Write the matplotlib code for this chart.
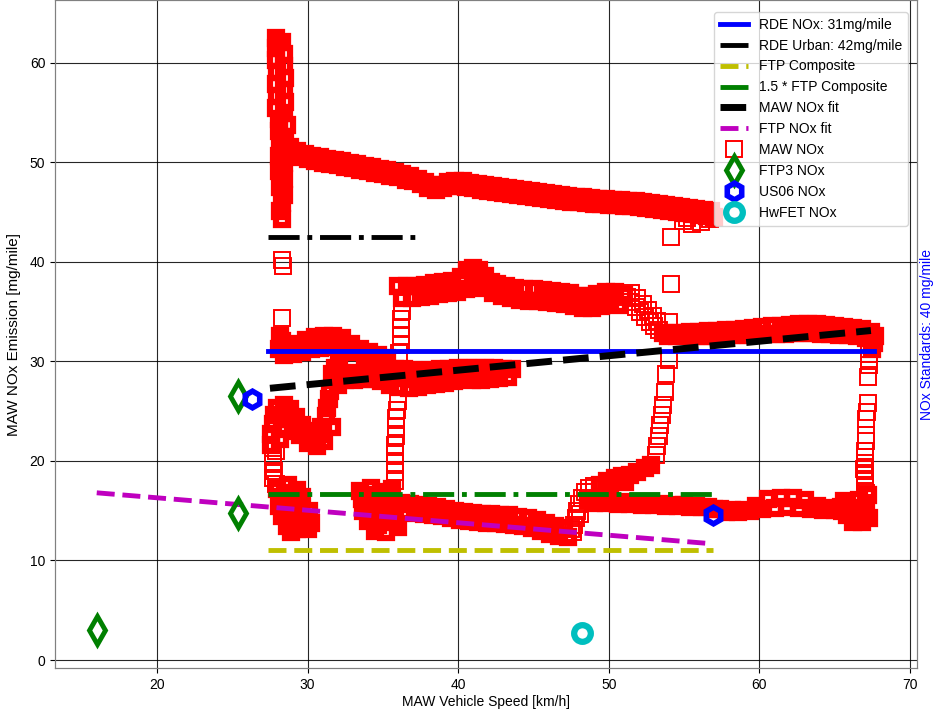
import numpy as np
import matplotlib
matplotlib.use('Agg')
import matplotlib.pyplot as plt

plt.rcParams['font.family'] = ['Liberation Sans', 'DejaVu Sans']
plt.rcParams['font.size'] = 10

# reference levels [mg/mile]
rde_nox = 31.0
rde_urban = 42.5
ftp_composite = 11.1

# speed spans [km/h] of the reference lines
maw_speed_span = [27.4, 67.6]
urban_speed_span = [27.4, 37.3]
ftp_speed_span = [27.4, 56.9]

# linear fits
maw_fit_speed = [27.5, 67.4]
maw_fit_nox = [27.3, 33.1]
ftp_fit_speed = [16.0, 56.7]
ftp_fit_nox = [16.8, 11.7]

# single-cycle results
ftp3_speed = [16.0, 25.4, 25.4]
ftp3_nox = [3.0, 26.5, 14.8]
us06_speed = [26.3, 56.9]
us06_nox = [26.2, 14.6]
hwfet_speed = [48.2]
hwfet_nox = [2.7]

# MAW windows (speed, NOx), read off piece by piece
# -- stretches where the windows pile up densely
maw_left_col = [(27.9, 62.5), (28.3, 62.1), (27.9, 61.5), (28.4, 60.9), (27.9, 60.3), (28.4, 59.7),
                (28.0, 59.1), (28.5, 58.5), (27.9, 57.9), (28.4, 57.3), (28.0, 56.7), (28.5, 56.1),
                (27.9, 55.5), (28.4, 54.9), (28.1, 54.3), (28.6, 53.7), (28.1, 53.1), (28.5, 52.5),
                (28.2, 51.9), (28.5, 51.3), (28.1, 50.6), (28.4, 49.9), (28.1, 49.1), (28.4, 48.3),
                (28.2, 47.5), (28.4, 46.7), (28.3, 45.9), (28.2, 45.1), (28.3, 44.3)]

maw_top_upper = [(28.8, 51.5), (29.3, 51.1), (29.8, 50.8), (30.3, 50.6), (30.8, 50.5), (31.3, 50.3),
                 (31.8, 50.2), (32.3, 50.1), (32.8, 49.9), (33.3, 49.8), (33.8, 49.6), (34.3, 49.5),
                 (34.8, 49.3), (35.3, 49.2), (35.8, 49.0), (36.3, 48.8), (36.8, 48.6), (37.3, 48.3),
                 (37.8, 48.0), (38.3, 47.7), (38.8, 47.7), (39.3, 48.0), (39.8, 48.1), (40.3, 48.1),
                 (40.8, 47.9), (41.3, 47.8), (41.8, 47.7), (42.3, 47.6), (42.8, 47.5), (43.3, 47.4),
                 (43.8, 47.3), (44.3, 47.2), (44.8, 47.1), (45.3, 47.0), (45.8, 46.9), (46.3, 46.8),
                 (46.8, 46.7), (47.3, 46.6), (47.8, 46.5), (48.3, 46.5), (48.8, 46.4), (49.3, 46.3),
                 (49.8, 46.3), (50.3, 46.2), (50.8, 46.2), (51.3, 46.1), (51.8, 46.1), (52.3, 46.0),
                 (52.8, 45.9), (53.3, 45.8), (53.8, 45.7), (54.3, 45.6), (54.8, 45.5), (55.3, 45.4),
                 (55.8, 45.3), (56.3, 45.2), (56.8, 45.1)]

maw_top_lower = [(29.0, 50.9), (29.5, 50.5), (30.0, 50.3), (30.5, 50.1), (31.0, 49.9), (31.5, 49.8),
                 (32.0, 49.7), (32.5, 49.5), (33.0, 49.4), (33.5, 49.2), (34.0, 49.1), (34.5, 48.9),
                 (35.0, 48.8), (35.5, 48.6), (36.0, 48.5), (36.5, 48.2), (37.0, 48.1), (37.5, 47.8),
                 (38.0, 47.4), (38.5, 47.2), (39.0, 47.4), (39.5, 47.6), (40.0, 47.6), (40.5, 47.5),
                 (41.0, 47.4), (41.5, 47.2), (42.0, 47.1), (42.5, 47.0), (43.0, 46.9), (43.5, 46.8),
                 (44.0, 46.7), (44.5, 46.6), (45.0, 46.5), (45.5, 46.4), (46.0, 46.3), (46.5, 46.2),
                 (47.0, 46.1), (47.5, 46.0), (48.0, 46.0), (48.5, 45.9), (49.0, 45.8), (49.5, 45.8),
                 (50.0, 45.7), (50.5, 45.7), (51.0, 45.6), (51.5, 45.6), (52.0, 45.5), (52.5, 45.4),
                 (53.0, 45.3), (53.5, 45.2), (54.0, 45.1), (54.5, 45.0), (55.0, 44.9), (55.5, 44.8),
                 (56.0, 44.7), (56.5, 44.6), (57.0, 44.5)]

maw_row31 = [(28.1, 31.2), (28.4, 30.6), (28.7, 31.5), (29.0, 30.7), (29.3, 31.7), (29.6, 30.9),
             (29.9, 32.1), (30.2, 31.2), (30.5, 32.4), (30.8, 31.3), (31.1, 32.6), (31.4, 31.4),
             (31.7, 32.6), (32.0, 31.5), (32.3, 32.3), (32.6, 31.2), (32.9, 31.7), (33.2, 30.9),
             (33.5, 31.2), (33.8, 30.6), (34.1, 30.9), (34.4, 30.4), (34.7, 30.6), (35.0, 30.1),
             (35.3, 30.3), (28.3, 32.0), (28.2, 32.6)]

maw_s_loop = [(32.1, 29.9), (31.8, 29.3), (32.2, 28.8), (31.7, 28.2), (32.0, 27.6), (31.5, 27.0),
              (31.4, 26.2), (31.3, 25.3), (31.2, 24.5), (31.6, 23.4), (31.1, 22.0), (30.9, 23.4),
              (30.6, 21.5), (30.5, 23.0), (30.0, 21.8), (30.0, 22.9), (29.5, 22.6), (29.6, 23.6),
              (29.0, 23.4), (29.2, 24.4), (28.6, 24.2), (28.8, 25.2), (28.4, 25.6), (31.0, 22.7),
              (30.3, 22.3), (29.3, 23.0)]

maw_left_low = [(28.0, 25.3), (28.6, 25.0), (27.8, 24.6), (28.5, 24.2), (27.7, 23.7), (28.3, 23.2),
                (27.6, 22.7), (28.2, 22.2), (27.6, 21.6), (28.0, 17.2), (28.7, 17.6), (29.3, 17.1),
                (28.2, 16.4), (28.9, 16.0), (29.6, 16.4), (28.1, 15.5), (28.8, 15.0), (29.5, 15.5),
                (30.1, 15.0), (28.3, 14.5), (29.0, 14.0), (29.7, 14.3), (30.2, 13.8), (28.6, 13.5),
                (29.3, 13.2), (30.0, 13.2), (28.9, 12.9), (28.5, 16.8), (29.2, 16.6), (28.5, 15.8),
                (29.2, 15.4), (28.6, 14.7), (29.4, 14.7), (29.8, 13.7)]

maw_low_mid = [(33.5, 17.0), (34.2, 17.3), (34.9, 16.9), (35.6, 17.2), (33.6, 16.2), (34.3, 15.8),
               (35.0, 16.2), (35.7, 15.6), (33.7, 15.0), (34.4, 14.6), (35.1, 15.0), (35.8, 14.5),
               (34.0, 14.0), (34.7, 13.6), (35.4, 13.9), (34.5, 13.0), (35.2, 12.9), (36.0, 13.4),
               (33.9, 16.6), (34.6, 16.4), (35.3, 16.6), (34.0, 15.4), (34.7, 15.2), (35.4, 15.4),
               (34.2, 14.4), (35.0, 14.2), (35.6, 14.0),
               (36.2, 15.8), (36.8, 15.7), (37.4, 15.6), (38.0, 15.5), (38.6, 15.4), (39.2, 15.2),
               (39.8, 15.0), (40.4, 14.9), (41.0, 14.8), (41.6, 14.7), (42.2, 14.7), (42.8, 14.6),
               (43.4, 14.6), (44.0, 14.4), (44.6, 14.3), (45.2, 14.1), (45.8, 13.8), (46.4, 13.5),
               (47.0, 13.3), (36.5, 14.9), (37.1, 14.8), (37.7, 14.7), (38.3, 14.6), (38.9, 14.5),
               (39.5, 14.3), (40.1, 14.1), (40.7, 14.0), (41.3, 13.9), (41.9, 13.8), (42.5, 13.8),
               (43.1, 13.7), (43.7, 13.6), (44.3, 13.5), (44.9, 13.3), (45.5, 13.0), (46.1, 12.7),
               (46.7, 12.5), (47.3, 12.4)]

maw_climb = [(49.4, 17.6), (49.9, 18.0), (50.4, 18.3), (50.9, 18.5), (51.4, 18.6), (51.9, 18.9),
             (52.4, 19.3), (52.8, 19.6), (50.1, 17.4), (51.1, 17.9)]

maw_low_right = [(48.6, 16.1), (49.0, 15.8), (49.4, 16.0), (49.8, 15.8), (50.2, 15.9), (50.6, 15.7),
                 (51.0, 15.9), (51.4, 15.7), (51.8, 15.8), (52.2, 15.6), (52.6, 15.8), (53.0, 15.6),
                 (53.4, 15.7), (53.8, 15.5), (54.2, 15.6), (54.6, 15.5), (55.0, 15.6), (55.4, 15.4),
                 (55.8, 15.5), (56.2, 15.4), (56.6, 15.4), (57.0, 15.2), (57.4, 15.2), (57.8, 14.9),
                 (58.2, 15.1), (58.6, 14.9), (59.0, 15.1), (59.4, 15.0), (59.8, 15.5), (60.2, 15.2),
                 (60.6, 16.2), (61.0, 15.3), (61.4, 16.3), (61.8, 15.4), (62.2, 16.3), (62.6, 15.3),
                 (63.0, 16.1), (63.4, 15.2), (63.8, 15.5), (64.2, 15.1), (64.6, 15.3), (65.0, 15.1),
                 (65.4, 15.4), (65.6, 16.0), (66.1, 15.2), (66.6, 16.1), (67.1, 15.6), (65.8, 14.6),
                 (66.4, 14.2), (67.0, 14.8), (66.2, 13.9), (66.8, 13.9), (67.3, 14.3), (65.5, 15.0),
                 (67.2, 16.6), (66.4, 14.9), (66.9, 15.3)]

maw_mid_right = [(53.6, 32.9), (54.2, 32.9), (54.8, 32.9), (55.4, 33.0), (56.0, 33.0), (56.6, 33.1),
                 (57.2, 33.1), (57.8, 33.2), (58.4, 33.2), (59.0, 33.3), (59.6, 33.4), (60.2, 33.5),
                 (60.8, 33.6), (61.4, 33.6), (62.0, 33.7), (62.6, 33.8), (63.2, 33.8), (63.8, 33.8),
                 (64.4, 33.7), (65.0, 33.6), (65.6, 33.5), (66.2, 33.4), (66.8, 33.3), (67.4, 33.0),
                 (53.9, 32.5), (54.5, 32.5), (55.1, 32.5), (55.7, 32.6), (56.3, 32.6), (56.9, 32.6),
                 (57.5, 32.7), (58.1, 32.7), (58.7, 32.7), (59.3, 32.7), (59.9, 32.8), (60.5, 32.8),
                 (61.1, 32.8), (61.7, 32.8), (62.3, 32.9), (62.9, 32.9), (63.5, 32.9), (64.1, 32.8),
                 (64.7, 32.8), (65.3, 32.7), (65.9, 32.7), (66.5, 32.6), (67.1, 32.3), (67.6, 31.8),
                 (67.7, 32.6), (67.5, 31.2)]

maw_upper_mid = [(36.0, 37.6), (36.6, 37.6), (37.2, 37.6), (37.8, 37.7), (38.4, 37.9), (39.0, 38.0),
                 (39.6, 38.1), (40.2, 38.5), (40.6, 39.2), (41.0, 39.4), (41.4, 39.2), (41.8, 38.6),
                 (42.2, 38.0), (42.6, 37.8), (43.2, 37.6), (43.8, 37.4), (44.4, 37.3), (45.0, 37.3),
                 (45.6, 37.2), (46.2, 37.1), (46.8, 37.0), (47.4, 36.9), (48.0, 36.6), (48.6, 36.6),
                 (49.2, 36.8), (49.8, 37.0), (50.4, 37.0), (51.0, 36.7), (36.3, 36.4), (36.9, 36.4),
                 (37.5, 36.5), (38.1, 36.6), (38.7, 36.8), (39.3, 36.9), (39.9, 37.0), (40.5, 37.3),
                 (41.1, 37.5), (41.7, 37.4), (42.3, 36.9), (42.9, 36.6), (43.5, 36.4), (44.1, 36.2),
                 (44.7, 36.1), (45.3, 36.1), (45.9, 36.0), (46.5, 35.9), (47.1, 35.8), (47.7, 35.6),
                 (48.3, 35.4), (48.9, 35.4), (49.5, 35.6), (50.1, 35.8), (50.7, 35.7)]

maw_mid_left = [(31.6, 28.7), (32.2, 28.7), (32.8, 28.7), (33.4, 28.8), (34.0, 28.8), (34.6, 28.9),
                (35.2, 29.2), (35.8, 29.2), (36.4, 29.2), (37.0, 29.1), (37.6, 29.0), (38.2, 29.1),
                (38.8, 29.2), (39.4, 29.2), (40.0, 29.3), (40.6, 29.3), (41.2, 29.3), (41.8, 29.3),
                (42.4, 29.3), (43.0, 29.2), (43.6, 29.2), (31.9, 28.1), (32.5, 28.1), (33.1, 28.1),
                (33.7, 28.2), (34.3, 28.2), (34.9, 28.0), (35.5, 27.6), (36.1, 27.4), (36.7, 27.3),
                (37.3, 27.4), (37.9, 27.6), (38.5, 27.7), (39.1, 27.8), (39.7, 28.0), (40.3, 28.2),
                (40.9, 28.1), (41.5, 28.1), (42.1, 28.2), (42.7, 28.3), (43.3, 28.4), (35.7, 28.4),
                (36.4, 28.3), (37.1, 28.2), (37.8, 28.3), (38.5, 28.4)]

# -- fast transitions, where single windows stand apart
maw_left_tail = [(28.3, 40.2), (28.35, 39.6), (28.3, 34.4), (27.9, 21.0), (27.7, 20.4), (27.7, 19.7),
                 (27.8, 19.0), (27.7, 18.3), (27.9, 17.7), (54.9, 44.1), (55.5, 43.8), (56.1, 44.0),
                 (56.7, 44.3), (55.2, 44.4)]

maw_rise48 = [(47.6, 12.9), (47.7, 13.6), (47.8, 14.3), (47.9, 15.0), (48.0, 15.7), (48.2, 16.3),
              (48.4, 16.9), (48.7, 17.3), (49.0, 17.5), (47.5, 13.2), (48.1, 14.7)]

maw_col53 = [(53.1, 20.6), (53.2, 21.5), (53.3, 22.5), (53.4, 23.6), (53.5, 24.6), (53.6, 25.6),
             (53.7, 26.9), (53.8, 28.7), (54.0, 30.1)]

maw_right_col = [(67.3, 30.7), (67.3, 30.2), (67.25, 29.6), (67.2, 28.4), (67.2, 25.8), (67.15, 24.9),
                 (67.1, 24.2), (67.1, 22.6), (67.05, 22.0), (67.0, 21.0), (67.0, 20.4), (67.0, 19.8),
                 (66.95, 19.2), (67.0, 18.6), (67.0, 18.0), (67.0, 17.4), (67.05, 16.8)]

maw_drop = [(51.2, 36.5), (51.5, 36.0), (51.8, 35.5), (52.1, 35.0), (52.4, 34.5), (52.7, 34.0),
            (53.0, 33.6), (53.3, 33.2), (51.5, 36.9), (51.9, 36.4), (52.3, 35.8), (52.6, 35.2),
            (52.9, 34.6), (53.2, 34.1), (54.0, 34.0), (54.1, 37.8), (54.1, 42.5)]

maw_col36 = [(36.3, 35.9), (36.3, 35.1), (36.2, 34.3), (36.2, 33.4), (36.2, 32.5), (36.2, 31.6),
             (36.1, 30.8), (36.0, 26.0), (35.95, 25.1), (35.9, 24.3), (35.9, 23.4), (35.85, 22.5),
             (35.8, 21.6), (35.8, 20.7), (35.8, 19.8), (35.8, 18.9), (35.8, 18.0)]

dense_pieces = [maw_left_col, maw_top_upper, maw_top_lower, maw_row31, maw_s_loop, maw_left_low,
                maw_low_mid, maw_climb, maw_low_right, maw_mid_right, maw_upper_mid, maw_mid_left]
sparse_pieces = [maw_left_tail, maw_rise48, maw_col53, maw_right_col, maw_drop, maw_col36]
maw_dense = np.array([p for piece in dense_pieces for p in piece])
maw_sparse = np.array([p for piece in sparse_pieces for p in piece])

fig = plt.figure(figsize=(9.34, 7.14), dpi=100)
ax = fig.add_axes([0.0589, 0.0644, 0.9229, 0.9356])

ax.plot(maw_speed_span, [rde_nox, rde_nox], 'b-', lw=3.5, label='RDE NOx: 31mg/mile', zorder=4)
ax.plot(urban_speed_span, [rde_urban, rde_urban], 'k-.', lw=3.5, label='RDE Urban: 42mg/mile', zorder=4)
ax.plot(ftp_speed_span, [ftp_composite, ftp_composite], 'y--', lw=3.5, label='FTP Composite', zorder=4)
ax.plot(ftp_speed_span, [1.5 * ftp_composite, 1.5 * ftp_composite], 'g-.', lw=3.5,
        label='1.5 * FTP Composite', zorder=4)
ax.plot(maw_fit_speed, maw_fit_nox, 'k--', lw=5, label='MAW NOx fit', zorder=4)
ax.plot(ftp_fit_speed, ftp_fit_nox, 'm--', lw=3.5, label='FTP NOx fit', zorder=4)
ax.plot(maw_sparse[:, 0], maw_sparse[:, 1], 's', mfc='none', mec='r', ms=11, mew=1.4,
        label='MAW NOx', zorder=3)
# overlapping windows: heavier edges stand in for the pile-up of outlines
ax.plot(maw_dense[:, 0], maw_dense[:, 1], 's', mfc='none', mec='r', ms=9, mew=4.5, zorder=3)
ax.plot(ftp3_speed, ftp3_nox, 'd', mfc='none', mec='g', ms=14, mew=3.5, label='FTP3 NOx', zorder=5)
ax.plot(us06_speed, us06_nox, 'h', mfc='none', mec='b', ms=12, mew=4, label='US06 NOx', zorder=5)
ax.plot(hwfet_speed, hwfet_nox, 'o', mfc='none', mec='c', ms=12, mew=4.5, label='HwFET NOx', zorder=5)

ax.set_xlim(13.23, 70.46)
ax.set_ylim(-0.8, 66.3)
ax.set_xlabel('MAW Vehicle Speed [km/h]', labelpad=2)
ax.set_ylabel('MAW NOx Emission [mg/mile]', fontsize=11, labelpad=6)
ax.grid(True, color='k', lw=0.8, alpha=0.85)
ax.set_axisbelow(True)
for s in ax.spines.values():
    s.set_color('0.5')

ax.legend(loc='upper right', bbox_to_anchor=(0.989, 0.982), borderaxespad=0., fontsize=10)

ax2 = ax.twinx()
ax2.set_yticks([])
ax2.set_ylabel('NOx Standards: 40 mg/mile', color='b', labelpad=2)
for s in ax2.spines.values():
    s.set_color('0.5')

fig.savefig('out.png', dpi=100)
